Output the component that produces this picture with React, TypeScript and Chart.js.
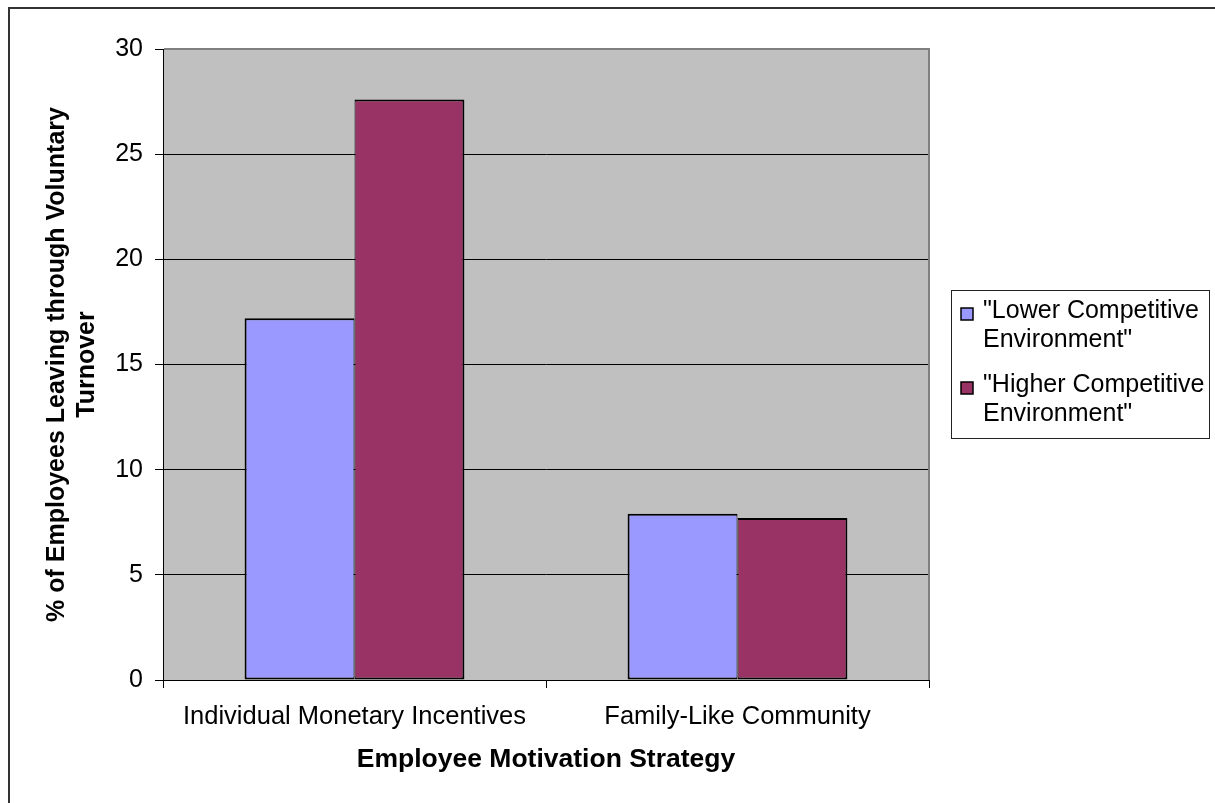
import React, { useEffect, useRef } from "react";
import { Chart, registerables } from "chart.js";

Chart.register(...registerables);

const categories = ["Individual Monetary Incentives", "Family-Like Community"];
const lowerValues = [17.2, 7.9];
const higherValues = [27.6, 7.7];
const seriesLabels = [
  ['"Lower Competitive', 'Environment"'],
  ['"Higher Competitive', 'Environment"'],
];
const seriesColors = ["#9999FF", "#993366"];
const yTitle = ["% of Employees Leaving through Voluntary", "Turnover"];
const xTitle = "Employee Motivation Strategy";
const yMin = 0;
const yMax = 30;
const yStep = 5;

const FONT = "'Liberation Sans', Arial, sans-serif";

const decorPlugin = {
  id: "decor",
  beforeDraw(chart: any) {
    const { ctx, chartArea } = chart;
    ctx.save();
    ctx.fillStyle = "#ffffff";
    ctx.fillRect(0, 0, chart.width, chart.height);
    // outer frame (left + top)
    ctx.strokeStyle = "#333333";
    ctx.lineWidth = 2;
    ctx.beginPath();
    ctx.moveTo(9, chart.height);
    ctx.lineTo(9, 8);
    ctx.lineTo(chart.width, 8);
    ctx.stroke();
    // plot background
    ctx.fillStyle = "#C0C0C0";
    ctx.fillRect(chartArea.left, chartArea.top, chartArea.right - chartArea.left, chartArea.bottom - chartArea.top);
    ctx.restore();
  },
  afterDraw(chart: any) {
    const { ctx, chartArea } = chart;
    ctx.save();
    // plot border top/right in gray
    ctx.strokeStyle = "#808080";
    ctx.lineWidth = 2;
    ctx.beginPath();
    ctx.moveTo(chartArea.left + 1, chartArea.top);
    ctx.lineTo(chartArea.right, chartArea.top);
    ctx.lineTo(chartArea.right, chartArea.bottom);
    ctx.stroke();

    // legend
    const lx = 951, ly = 290, lw = 258, lh = 148;
    ctx.fillStyle = "#ffffff";
    ctx.fillRect(lx, ly, lw, lh);
    ctx.strokeStyle = "#222222";
    ctx.lineWidth = 1;
    ctx.strokeRect(lx + 0.5, ly + 0.5, lw, lh);
    ctx.font = `25px ${FONT}`;
    ctx.textBaseline = "middle";
    ctx.textAlign = "left";
    const lineStep = 29;
    const itemStep = 74;
    chart.data.datasets.forEach((ds: any, i: number) => {
      const y0 = ly + 21 + i * itemStep;
      ctx.fillStyle = ds.backgroundColor;
      ctx.fillRect(961, y0 - 3, 12, 12);
      ctx.strokeStyle = "#000";
      ctx.lineWidth = 1.5;
      ctx.strokeRect(961, y0 - 3, 12, 12);
      ctx.fillStyle = "#000";
      seriesLabels[i].forEach((t, j) => ctx.fillText(t, 983, y0 + j * lineStep));
    });
    ctx.restore();
  },
};

export default function App() {
  const ref = useRef<HTMLCanvasElement | null>(null);
  useEffect(() => {
    if (!ref.current) return;
    const chart = new Chart(ref.current, {
      type: "bar",
      data: {
        labels: categories,
        datasets: [
          {
            label: seriesLabels[0].join(" "),
            data: lowerValues,
            backgroundColor: seriesColors[0],
            borderColor: "#000",
            borderWidth: { left: 2, top: 2, right: 1, bottom: 2 },
            borderSkipped: false,
            categoryPercentage: 0.574,
            barPercentage: 1,
          },
          {
            label: seriesLabels[1].join(" "),
            data: higherValues,
            backgroundColor: seriesColors[1],
            borderColor: "#000",
            borderWidth: { left: 1, top: 2, right: 2, bottom: 2 },
            borderSkipped: false,
            categoryPercentage: 0.574,
            barPercentage: 1,
          },
        ],
      },
      options: {
        animation: false,
        responsive: true,
        maintainAspectRatio: false,
        devicePixelRatio: 1,
        layout: { padding: { top: 49, right: 286, left: 0, bottom: 0 } },
        plugins: { legend: { display: false }, tooltip: { enabled: false } },
        scales: {
          x: {
            grid: { display: true, drawOnChartArea: false, drawTicks: true, tickLength: 8, color: "#000", offset: true },
            border: { display: true, color: "#000", width: 1 },
            ticks: { color: "#000", font: { family: FONT, size: 25.5 }, padding: 14, maxRotation: 0, autoSkip: false },
            title: {
              display: true,
              text: xTitle,
              color: "#000",
              font: { family: FONT, size: 26.5, weight: "bold" },
              padding: { top: 0, bottom: 27 },
            },
            afterFit: (s: any) => {
              s.height = 123;
            },
          },
          y: {
            min: yMin,
            max: yMax,
            ticks: { stepSize: yStep, color: "#000", font: { family: FONT, size: 25 }, padding: 12 },
            grid: { color: "#000", lineWidth: 1, tickLength: 8, drawTicks: true },
            border: { display: true, color: "#000", width: 1 },
            title: {
              display: true,
              text: yTitle,
              color: "#000",
              font: { family: FONT, size: 25, weight: "bold" },
              padding: { top: 42, bottom: 0 },
            },
            afterFit: (s: any) => {
              s.width = 163;
            },
          },
        },
      } as any,
      plugins: [decorPlugin],
    });
    return () => chart.destroy();
  }, []);
  return (
    <div style={{ position: "absolute", left: 0, top: 0, width: 1215, height: 803 }}>
      <canvas ref={ref} />
    </div>
  );
}
